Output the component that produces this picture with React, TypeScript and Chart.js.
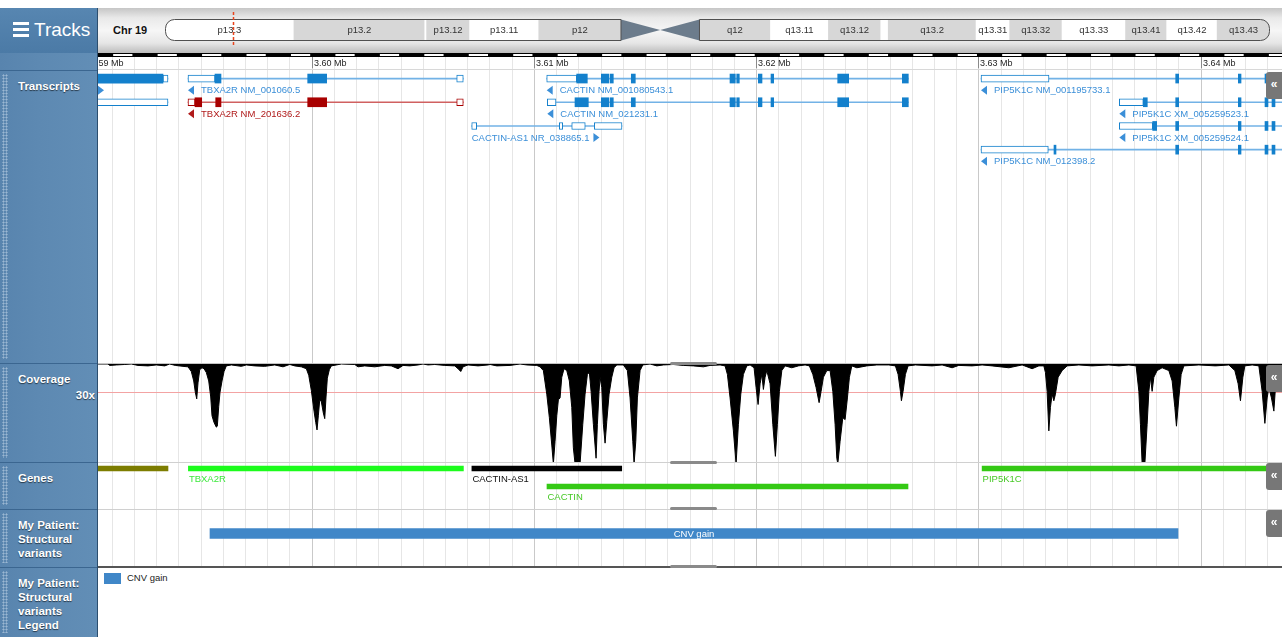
import React, { useEffect, useRef } from 'react';
import { Chart, registerables } from 'chart.js';

Chart.register(...registerables);

const SANS = '"Liberation Sans", Arial, Helvetica, sans-serif';

// ---------------- view (kb on chr19) ----------------
const VIEW_START_KB = 3590.385;
const VIEW_END_KB = 3643.658;
const CHR_NAME = 'Chr 19';
const CHR_LENGTH_MB = 59.128983;
const TICK_STEP_KB = 10;

// ---------------- cytobands (Mb) ----------------
const BAND_NAMES = ['p13.3', 'p13.2', 'p13.13', 'p13.12', 'p13.11', 'p12', 'p11', 'q11', 'q12', 'q13.11', 'q13.12', 'q13.13', 'q13.2', 'q13.31', 'q13.32', 'q13.33', 'q13.41', 'q13.42', 'q13.43'];
const BAND_START = [0, 6.9, 13.9, 14.0, 16.3, 20.0, 24.4, 26.5, 28.6, 32.4, 35.5, 38.3, 38.7, 43.4, 45.2, 48.0, 51.4, 53.6, 56.3];
const BAND_END = [6.9, 13.9, 14.0, 16.3, 20.0, 24.4, 26.5, 28.6, 32.4, 35.5, 38.3, 38.7, 43.4, 45.2, 48.0, 51.4, 53.6, 56.3, 59.128983];
const BAND_STAIN = ['gneg', 'gpos25', 'gneg', 'gpos25', 'gneg', 'gvar', 'acen', 'acen', 'gvar', 'gneg', 'gpos25', 'gneg', 'gpos25', 'gneg', 'gpos25', 'gneg', 'gpos25', 'gneg', 'gpos25'];

// ---------------- transcripts (kb) ----------------
type Seg = [number, number];
const GIPC3_A_CDS: Seg[] = [[3589.8, 3593.309]];
const GIPC3_A_UTR: Seg[] = [[3593.309, 3593.534]];
const GIPC3_B_UTR: Seg[] = [[3585.561, 3593.534]];
const TBXA2R_001060_UTR: Seg[] = [[3594.434, 3595.649], [3606.524, 3606.821]];
const TBXA2R_001060_CDS: Seg[] = [[3595.649, 3595.919], [3599.82, 3600.675]];
const TBXA2R_201636_UTR: Seg[] = [[3594.434, 3594.749], [3606.524, 3606.821]];
const TBXA2R_201636_CDS: Seg[] = [[3594.749, 3595.051], [3595.681, 3595.919], [3599.82, 3600.675]];
const CACTIN_AS1_EXONS: Seg[] = [[3607.199, 3607.424], [3611.141, 3611.294], [3611.699, 3612.31], [3612.715, 3613.962]];
const CACTIN_SHARED_CDS: Seg[] = [[3613.031, 3613.363], [3613.422, 3613.57], [3614.38, 3614.56], [3618.821, 3619.06], [3619.123, 3619.24], [3620.095, 3620.261], [3620.666, 3620.787], [3623.667, 3624.162], [3626.574, 3626.844]];
const CACTIN_080543_UTR: Seg[] = [[3610.574, 3611.924]];
const CACTIN_080543_CDS: Seg[] = [[3611.924, 3612.401], ...CACTIN_SHARED_CDS];
const CACTIN_021231_UTR: Seg[] = [[3610.601, 3610.992]];
const CACTIN_021231_CDS: Seg[] = [[3611.847, 3612.446], ...CACTIN_SHARED_CDS];
const PIP5K1C_SHARED_CDS: Seg[] = [[3638.875, 3639.01], [3641.692, 3641.814], [3642.893, 3643.028], [3643.208, 3643.343]];
const PIP5K1C_195733_UTR: Seg[] = [[3630.115, 3633.175]];
const PIP5K1C_523_UTR: Seg[] = [[3636.338, 3637.418]];
const PIP5K1C_523_CDS: Seg[] = [[3637.418, 3637.597], ...PIP5K1C_SHARED_CDS];
const PIP5K1C_524_UTR: Seg[] = [[3636.338, 3637.84]];
const PIP5K1C_524_CDS: Seg[] = [[3637.84, 3638.02], ...PIP5K1C_SHARED_CDS];
const PIP5K1C_012398_UTR: Seg[] = [[3630.115, 3633.144]];
const PIP5K1C_012398_CDS: Seg[] = [[3633.399, 3633.489], ...PIP5K1C_SHARED_CDS];

type Tx = { label: string | null; strand: '+' | '-'; row: number; red: boolean; start: number; end: number; utr: Seg[]; cds: Seg[] };
const TRANSCRIPTS: Tx[] = [
  { label: '', strand: '+', row: 0, red: false, start: 3585.561, end: 3593.534, utr: GIPC3_A_UTR, cds: GIPC3_A_CDS },
  { label: null, strand: '+', row: 1, red: false, start: 3585.561, end: 3593.534, utr: GIPC3_B_UTR, cds: [] },
  { label: 'TBXA2R NM_001060.5', strand: '-', row: 0, red: false, start: 3594.434, end: 3606.821, utr: TBXA2R_001060_UTR, cds: TBXA2R_001060_CDS },
  { label: 'TBXA2R NM_201636.2', strand: '-', row: 1, red: true, start: 3594.434, end: 3606.821, utr: TBXA2R_201636_UTR, cds: TBXA2R_201636_CDS },
  { label: 'CACTIN-AS1 NR_038865.1', strand: '+', row: 2, red: false, start: 3607.199, end: 3613.962, utr: CACTIN_AS1_EXONS, cds: [] },
  { label: 'CACTIN NM_001080543.1', strand: '-', row: 0, red: false, start: 3610.574, end: 3626.844, utr: CACTIN_080543_UTR, cds: CACTIN_080543_CDS },
  { label: 'CACTIN NM_021231.1', strand: '-', row: 1, red: false, start: 3610.601, end: 3626.844, utr: CACTIN_021231_UTR, cds: CACTIN_021231_CDS },
  { label: 'PIP5K1C NM_001195733.1', strand: '-', row: 0, red: false, start: 3630.115, end: 3666.0, utr: PIP5K1C_195733_UTR, cds: PIP5K1C_SHARED_CDS },
  { label: 'PIP5K1C XM_005259523.1', strand: '-', row: 1, red: false, start: 3636.338, end: 3666.0, utr: PIP5K1C_523_UTR, cds: PIP5K1C_523_CDS },
  { label: 'PIP5K1C XM_005259524.1', strand: '-', row: 2, red: false, start: 3636.338, end: 3666.0, utr: PIP5K1C_524_UTR, cds: PIP5K1C_524_CDS },
  { label: 'PIP5K1C NM_012398.2', strand: '-', row: 3, red: false, start: 3630.115, end: 3666.0, utr: PIP5K1C_012398_UTR, cds: PIP5K1C_012398_CDS },
];

// ---------------- coverage [kb, depth] ----------------
const COVERAGE: [number, number][] = [
  [3590.385, 0], [3590.835, 0], [3590.912, 1.5], [3591.209, 1], [3591.587, 0.5], [3591.884, 0], [3592.185, 1.5], [3592.635, 2], [3593.009, 1], [3593.387, 2], [3593.612, 0], [3593.864, 1.5], [3594.21, 2.5], [3594.435, 3],
  [3594.584, 8], [3594.692, 18], [3594.764, 30], [3594.827, 37], [3594.885, 20], [3594.962, 6], [3595.065, 4], [3595.155, 5], [3595.259, 9], [3595.367, 18], [3595.457, 35], [3595.515, 55], [3595.605, 62], [3595.709, 67], [3595.754, 66], [3595.817, 45], [3595.875, 30], [3595.965, 18], [3596.055, 8], [3596.159, 2],
  [3596.384, 1], [3596.834, 2.5], [3597.059, 1], [3597.437, 2], [3597.887, 2.5], [3598.337, 1], [3598.71, 3], [3599.012, 0.5], [3599.237, 2], [3599.534, 3], [3599.759, 5], [3599.867, 12], [3599.984, 28], [3600.105, 50], [3600.182, 62], [3600.24, 70], [3600.299, 55], [3600.362, 38], [3600.434, 40], [3600.524, 52], [3600.587, 58], [3600.645, 35], [3600.704, 15], [3600.794, 6], [3600.884, 2],
  [3601.334, 0], [3601.937, 0.5], [3602.085, 3], [3602.387, 2], [3602.837, 3], [3603.287, 1.5], [3603.584, 2], [3603.885, 5], [3604.11, 1.5], [3604.412, 2], [3604.785, 1], [3605.01, 0], [3605.235, 1], [3605.537, 0.5], [3605.987, 1.5], [3606.437, 2], [3606.585, 5], [3606.707, 8], [3606.81, 3], [3607.035, 1], [3607.485, 2], [3607.935, 1],
  [3608.025, 0.5], [3608.327, 2], [3608.925, 1.5], [3609.375, 0], [3609.677, 1], [3610.127, 1.5], [3610.275, 3], [3610.424, 7], [3610.577, 32], [3610.694, 57], [3610.802, 86], [3610.874, 106], [3610.95, 82], [3611.027, 55], [3611.099, 38], [3611.175, 36], [3611.252, 14], [3611.355, 5], [3611.477, 7], [3611.594, 18], [3611.702, 46], [3611.774, 89], [3611.85, 106], [3612.075, 106], [3612.197, 64], [3612.3, 32], [3612.404, 11], [3612.494, 9], [3612.57, 29], [3612.674, 64], [3612.795, 100], [3612.854, 64], [3612.93, 29], [3612.975, 14], [3613.052, 25], [3613.124, 64], [3613.2, 84], [3613.277, 61], [3613.38, 32], [3613.502, 14], [3613.605, 4], [3613.727, 1],
  [3614.024, 1], [3614.204, 7], [3614.325, 36], [3614.447, 82], [3614.505, 106], [3614.582, 82], [3614.654, 36], [3614.775, 7], [3614.897, 1], [3615.225, 0], [3615.527, 2], [3615.824, 1], [3616.274, 0.5], [3616.724, 1.5], [3617.174, 2], [3617.624, 3], [3617.925, 1.5], [3618.375, 1],
  [3618.6, 2], [3618.704, 11], [3618.825, 36], [3618.974, 71], [3619.095, 106], [3619.199, 64], [3619.307, 32], [3619.424, 11], [3619.577, 2], [3619.725, 1], [3619.905, 4], [3619.995, 25], [3620.085, 43], [3620.175, 21], [3620.252, 11], [3620.324, 27], [3620.4, 14], [3620.477, 7], [3620.625, 21], [3620.747, 64], [3620.864, 98], [3620.954, 64], [3621.044, 29], [3621.152, 7], [3621.3, 2],
  [3621.602, 4], [3621.899, 2], [3622.2, 1], [3622.394, 2], [3622.547, 11], [3622.695, 25], [3622.83, 41], [3622.92, 29], [3623.024, 14], [3623.177, 7], [3623.325, 7], [3623.447, 29], [3623.55, 64], [3623.627, 100], [3623.672, 106], [3623.775, 82], [3623.897, 57], [3624.0, 59], [3624.104, 36], [3624.194, 14], [3624.302, 2], [3624.527, 4], [3624.977, 2], [3625.427, 1],
  [3625.967, 1], [3626.264, 2], [3626.385, 11], [3626.489, 29], [3626.534, 39], [3626.61, 29], [3626.714, 11], [3626.835, 2], [3627.164, 1], [3627.915, 2], [3628.365, 1], [3628.815, 4], [3629.117, 1.5], [3629.715, 2], [3630.165, 1], [3630.615, 2], [3631.367, 4], [3631.965, 1], [3632.415, 5], [3632.717, 2],
  [3632.942, 2], [3633.014, 9], [3633.09, 29], [3633.167, 71], [3633.239, 46], [3633.315, 32], [3633.392, 39], [3633.464, 32], [3633.585, 14], [3633.765, 7], [3633.99, 2], [3634.517, 1], [3635.115, 2], [3635.867, 1], [3636.317, 2], [3636.767, 1],
  [3637.095, 2], [3637.217, 29], [3637.289, 64], [3637.365, 106], [3637.487, 106], [3637.59, 64], [3637.667, 29], [3637.739, 14], [3637.815, 29], [3637.892, 14], [3638.04, 7], [3638.265, 4], [3638.567, 7], [3638.715, 18], [3638.837, 46], [3638.909, 66], [3639.017, 36], [3639.12, 11], [3639.242, 2],
  [3639.917, 1], [3640.664, 2], [3641.267, 1], [3641.537, 7], [3641.685, 21], [3641.789, 39], [3641.897, 14], [3641.987, 2], [3642.315, 1], [3642.617, 2], [3642.765, 29], [3642.887, 63], [3642.99, 36], [3643.067, 25], [3643.184, 36], [3643.292, 50], [3643.364, 25], [3643.517, 7], [3643.665, 7], [3644.0, 5],
];
const COVERAGE_REF = 30;
const COVERAGE_AXIS_MAX = 104;

// ---------------- genes (kb) ----------------
const GENE_NAMES = ['GIPC3', 'TBXA2R', 'CACTIN-AS1', 'CACTIN', 'PIP5K1C'];
const GENE_START = [3585.561, 3594.452, 3607.208, 3610.587, 3630.165];
const GENE_END = [3593.534, 3606.826, 3613.95, 3626.83, 3666.0];
const GENE_ROW = [0, 0, 0, 1, 0];

// ---------------- structural variants (kb) ----------------
const SV_LABELS = ['CNV gain'];
const SV_START = [3595.424];
const SV_END = [3638.979];

// ---------------- styles ----------------
const STAIN_COLORS: Record<string, string> = { gneg: '#ffffff', gpos25: '#d7d7d7', gvar: '#d7d7d7', acen: 'rgba(0,0,0,0)' };
const GENE_BAR_COLORS: Record<string, string> = { GIPC3: '#7d7d00', TBXA2R: '#1cfc1c', 'CACTIN-AS1': '#000000', CACTIN: '#34c914', PIP5K1C: '#34c914' };
const GENE_LABEL_COLORS: Record<string, string> = { GIPC3: '#7d7d00', TBXA2R: '#3ce83c', 'CACTIN-AS1': '#111111', CACTIN: '#47c926', PIP5K1C: '#47c926' };
const BLUE_EXON = '#1380cc';
const BLUE_INTRON = '#72b2e6';
const BLUE_LABEL = '#3b8fd8';
const RED_EXON = '#a80000';
const RED_INTRON = '#d06060';
const RED_LABEL = '#b01a1a';
const CNV_COLOR = '#4087c8';
const GRID_MINOR = '#e6e6e6';
const GRID_MAJOR = '#c9c9c9';
const PANEL_BLUE = '#5d89b2';

const baseOptions = {
  animation: false,
  responsive: false,
  maintainAspectRatio: false,
  events: [],
  layout: { padding: 0 },
  plugins: { legend: { display: false }, tooltip: { enabled: false } },
};

const xTrackScale = { type: 'linear', min: VIEW_START_KB, max: VIEW_END_KB, display: false };

function gridPlugin(topOffset: number) {
  return {
    id: 'kbGrid',
    beforeDatasetsDraw(chart: any) {
      const { ctx, chartArea: a, scales } = chart;
      const x = scales.x;
      ctx.save();
      ctx.lineWidth = 1;
      for (let k = Math.ceil(x.min); k <= x.max; k++) {
        const px = Math.round(x.getPixelForValue(k)) + 0.5;
        ctx.strokeStyle = k % TICK_STEP_KB === 0 ? GRID_MAJOR : GRID_MINOR;
        ctx.beginPath();
        ctx.moveTo(px, a.top + topOffset);
        ctx.lineTo(px, a.bottom);
        ctx.stroke();
      }
      ctx.restore();
    },
  };
}

const rulerPlugin = {
  id: 'ruler',
  afterDatasetsDraw(chart: any) {
    const { ctx, chartArea: a, scales } = chart;
    const x = scales.x;
    ctx.save();
    ctx.beginPath();
    ctx.rect(a.left, 0, a.right - a.left, 20);
    ctx.clip();
    ctx.fillStyle = '#000';
    ctx.fillRect(a.left, 1, a.right - a.left, 4);
    ctx.fillStyle = '#fff';
    for (let k = Math.floor(x.min); k <= x.max; k++) {
      if (Math.abs(k % 2) === 1) {
        const x1 = x.getPixelForValue(k) + 1.5;
        const x2 = x.getPixelForValue(k + 1) - 1.5;
        ctx.fillRect(x1, 2, x2 - x1, 2);
      }
    }
    ctx.font = `9px ${SANS}`;
    ctx.textBaseline = 'middle';
    ctx.textAlign = 'left';
    for (let k = Math.floor(x.min / TICK_STEP_KB) * TICK_STEP_KB; k <= x.max; k += TICK_STEP_KB) {
      const px = Math.round(x.getPixelForValue(k)) + 0.5;
      ctx.strokeStyle = '#8a8a8a';
      ctx.beginPath();
      ctx.moveTo(px, 5);
      ctx.lineTo(px, 16);
      ctx.stroke();
      ctx.fillStyle = '#1e1e1e';
      ctx.fillText(`${(k / 1000).toFixed(2)} Mb`, px + 1.5, 11.5);
    }
    ctx.restore();
  },
};

const TX_LABEL_OFFSET = 0.49;
const txLabelPlugin = {
  id: 'txLabels',
  afterDatasetsDraw(chart: any) {
    const { ctx, chartArea: a, scales } = chart;
    const { x, y } = scales;
    ctx.save();
    ctx.beginPath();
    ctx.rect(a.left, a.top, a.right - a.left, a.bottom - a.top);
    ctx.clip();
    ctx.font = `9.5px ${SANS}`;
    ctx.textBaseline = 'middle';
    ctx.textAlign = 'left';
    for (const t of TRANSCRIPTS) {
      if (t.label === null) continue;
      const py = y.getPixelForValue(t.row + TX_LABEL_OFFSET);
      const lx = Math.max(x.getPixelForValue(t.start), a.left);
      ctx.fillStyle = t.red ? RED_LABEL : BLUE_LABEL;
      if (t.strand === '-') {
        ctx.beginPath();
        ctx.moveTo(lx, py);
        ctx.lineTo(lx + 6, py - 4.5);
        ctx.lineTo(lx + 6, py + 4.5);
        ctx.closePath();
        ctx.fill();
        ctx.fillText(t.label, lx + 13, py + 0.5);
      } else {
        ctx.fillText(t.label, lx, py + 0.5);
        const w = t.label ? ctx.measureText(t.label).width + 4 : 0;
        ctx.beginPath();
        ctx.moveTo(lx + w, py - 4.5);
        ctx.lineTo(lx + w + 6, py);
        ctx.lineTo(lx + w, py + 4.5);
        ctx.closePath();
        ctx.fill();
      }
    }
    ctx.restore();
  },
};

function makeTranscripts() {
  const intronData = TRANSCRIPTS.map((t) => ({ x: [t.start, t.end], y: t.row, c: t.red ? RED_INTRON : BLUE_INTRON }));
  const utrData = TRANSCRIPTS.flatMap((t) => t.utr.map((s) => ({ x: [s[0], s[1]], y: t.row, c: t.red ? RED_EXON : BLUE_EXON })));
  const cdsData = TRANSCRIPTS.flatMap((t) => t.cds.map((s) => ({ x: [s[0], s[1]], y: t.row, c: t.red ? RED_EXON : BLUE_EXON })));
  const col = (c: any) => (c.raw ? c.raw.c : BLUE_EXON);
  return {
    type: 'bar',
    data: {
      datasets: [
        { label: 'CDS', data: cdsData, backgroundColor: col, borderWidth: 0, barThickness: 9, grouped: false, order: 0 },
        { label: 'UTR', data: utrData, backgroundColor: '#ffffff', borderColor: col, borderWidth: 1, borderSkipped: false, barThickness: 7, grouped: false, order: 1 },
        { label: 'Intron', data: intronData, backgroundColor: col, borderWidth: 0, barThickness: 1, grouped: false, order: 2 },
      ],
    },
    options: {
      ...baseOptions,
      indexAxis: 'y',
      scales: {
        x: xTrackScale,
        y: { type: 'linear', min: -1.12, max: 12.0, reverse: true, offset: false, display: false },
      },
    },
    plugins: [gridPlugin(5), rulerPlugin, txLabelPlugin],
  };
}

const refLinePlugin = {
  id: 'refLine',
  beforeDatasetsDraw(chart: any) {
    const { ctx, chartArea: a, scales } = chart;
    const py = Math.round(scales.y.getPixelForValue(COVERAGE_REF)) + 0.5;
    ctx.save();
    ctx.strokeStyle = '#f3a3a3';
    ctx.lineWidth = 1;
    ctx.beginPath();
    ctx.moveTo(a.left, py);
    ctx.lineTo(a.right, py);
    ctx.stroke();
    ctx.restore();
  },
};

function makeCoverage() {
  return {
    type: 'line',
    data: {
      datasets: [
        {
          label: 'Coverage',
          data: COVERAGE.map((p) => ({ x: p[0], y: p[1] })),
          borderColor: '#000',
          backgroundColor: '#000',
          borderWidth: 1,
          pointRadius: 0,
          fill: 'origin',
          tension: 0,
        },
      ],
    },
    options: {
      ...baseOptions,
      scales: {
        x: xTrackScale,
        y: { type: 'linear', min: 0, max: COVERAGE_AXIS_MAX, reverse: true, display: false },
      },
    },
    plugins: [gridPlugin(0), refLinePlugin],
  };
}

const GENE_LABEL_OFFSET = 0.61;
const geneLabelPlugin = {
  id: 'geneLabels',
  afterDatasetsDraw(chart: any) {
    const { ctx, scales } = chart;
    const { x, y } = scales;
    ctx.save();
    ctx.font = `9.5px ${SANS}`;
    ctx.textBaseline = 'middle';
    ctx.textAlign = 'left';
    GENE_NAMES.forEach((g, i) => {
      ctx.fillStyle = GENE_LABEL_COLORS[g];
      ctx.fillText(g, x.getPixelForValue(GENE_START[i]) + 0.5, y.getPixelForValue(GENE_ROW[i] + GENE_LABEL_OFFSET));
    });
    ctx.restore();
  },
};

function makeGenes() {
  return {
    type: 'bar',
    data: {
      datasets: [
        {
          label: 'Genes',
          data: GENE_NAMES.map((g, i) => ({ x: [GENE_START[i], GENE_END[i]], y: GENE_ROW[i], g })),
          backgroundColor: (c: any) => (c.raw ? GENE_BAR_COLORS[c.raw.g] : '#000'),
          borderWidth: 0,
          barThickness: 5,
          grouped: false,
        },
      ],
    },
    options: {
      ...baseOptions,
      indexAxis: 'y',
      scales: {
        x: xTrackScale,
        y: { type: 'linear', min: -0.306, max: 2.25, reverse: true, offset: false, display: false },
      },
    },
    plugins: [gridPlugin(0), geneLabelPlugin],
  };
}

const svLabelPlugin = {
  id: 'svLabels',
  afterDatasetsDraw(chart: any) {
    const { ctx, scales } = chart;
    const { x, y } = scales;
    ctx.save();
    ctx.font = `9.5px ${SANS}`;
    ctx.textBaseline = 'middle';
    ctx.textAlign = 'center';
    ctx.fillStyle = '#ffffff';
    SV_LABELS.forEach((l, i) => {
      ctx.fillText(l, x.getPixelForValue((SV_START[i] + SV_END[i]) / 2), y.getPixelForValue(0) + 0.5);
    });
    ctx.restore();
  },
};

function makeSV() {
  return {
    type: 'bar',
    data: {
      datasets: [
        {
          label: SV_LABELS[0],
          data: SV_LABELS.map((_, i) => ({ x: [SV_START[i], SV_END[i]], y: 0 })),
          backgroundColor: CNV_COLOR,
          borderWidth: 0,
          barThickness: 10,
          grouped: false,
        },
      ],
    },
    options: {
      ...baseOptions,
      indexAxis: 'y',
      scales: {
        x: xTrackScale,
        y: { type: 'linear', min: -1, max: 1.383, reverse: true, offset: false, display: false },
      },
    },
    plugins: [gridPlugin(0), svLabelPlugin],
  };
}

function ideoGeom(chart: any) {
  const { x, y } = chart.scales;
  const mid = Math.round(y.getPixelForValue(0));
  const acen = BAND_STAIN.map((s, i) => (s === 'acen' ? i : -1)).filter((i) => i >= 0);
  const first = acen[0];
  const last = acen[acen.length - 1];
  return {
    mid,
    top: mid - 10.5,
    bot: mid + 10.5,
    pStart: x.getPixelForValue(BAND_START[0]) + 0.5,
    pEnd: x.getPixelForValue(BAND_START[first]),
    cen: x.getPixelForValue(BAND_END[first]),
    qStart: x.getPixelForValue(BAND_END[last]),
    qEnd: x.getPixelForValue(BAND_END[BAND_END.length - 1]) - 0.5,
  };
}

function armPath(ctx: any, x0: number, x1: number, top: number, bot: number, radii: number[]) {
  if (ctx.roundRect) ctx.roundRect(x0, top, x1 - x0, bot - top, radii);
  else ctx.rect(x0, top, x1 - x0, bot - top);
}

const ideogramPlugin = {
  id: 'ideogram',
  beforeDatasetsDraw(chart: any) {
    const { ctx } = chart;
    const g = ideoGeom(chart);
    ctx.save();
    ctx.beginPath();
    armPath(ctx, g.pStart, g.pEnd, g.top, g.bot, [9, 0, 0, 9]);
    armPath(ctx, g.qStart, g.qEnd, g.top, g.bot, [0, 9, 9, 0]);
    ctx.clip();
  },
  afterDatasetsDraw(chart: any) {
    const { ctx, scales } = chart;
    const x = scales.x;
    ctx.restore();
    const g = ideoGeom(chart);
    ctx.save();
    ctx.fillStyle = '#6c7c8c';
    ctx.beginPath();
    ctx.moveTo(g.pEnd, g.top);
    ctx.lineTo(g.cen, g.mid);
    ctx.lineTo(g.pEnd, g.bot);
    ctx.closePath();
    ctx.moveTo(g.qStart, g.top);
    ctx.lineTo(g.cen, g.mid);
    ctx.lineTo(g.qStart, g.bot);
    ctx.closePath();
    ctx.fill();
    ctx.strokeStyle = '#505050';
    ctx.lineWidth = 1;
    ctx.beginPath();
    armPath(ctx, g.pStart, g.pEnd, g.top, g.bot, [9, 0, 0, 9]);
    ctx.stroke();
    ctx.beginPath();
    armPath(ctx, g.qStart, g.qEnd, g.top, g.bot, [0, 9, 9, 0]);
    ctx.stroke();
    ctx.font = `9.5px ${SANS}`;
    ctx.textAlign = 'center';
    ctx.textBaseline = 'middle';
    ctx.fillStyle = '#333';
    BAND_NAMES.forEach((name, i) => {
      if (BAND_STAIN[i] === 'acen') return;
      const x0 = x.getPixelForValue(BAND_START[i]);
      const x1 = x.getPixelForValue(BAND_END[i]);
      if (ctx.measureText(name).width + 4 < x1 - x0) ctx.fillText(name, (x0 + x1) / 2, g.mid + 0.5);
    });
    const viewCenterMb = (VIEW_START_KB + VIEW_END_KB) / 2 / 1000;
    const mx = Math.round(x.getPixelForValue(viewCenterMb)) + 0.5;
    ctx.strokeStyle = '#e8431c';
    ctx.lineWidth = 1.5;
    ctx.setLineDash([3, 2]);
    ctx.beginPath();
    ctx.moveTo(mx, g.mid - 18);
    ctx.lineTo(mx, g.mid + 17);
    ctx.stroke();
    ctx.restore();
  },
};

function makeIdeogram() {
  return {
    type: 'bar',
    data: {
      labels: ['chr19'],
      datasets: [
        {
          label: 'bands',
          data: BAND_NAMES.map((_, i) => ({ x: [BAND_START[i], BAND_END[i]], y: 'chr19', s: BAND_STAIN[i] })),
          backgroundColor: (c: any) => (c.raw ? STAIN_COLORS[c.raw.s] : '#fff'),
          borderWidth: 0,
          barThickness: 22,
          grouped: false,
        },
      ],
    },
    options: {
      ...baseOptions,
      indexAxis: 'y',
      layout: { padding: { left: 1, right: 1, top: 0, bottom: 0 } },
      scales: {
        x: { type: 'linear', min: 0, max: CHR_LENGTH_MB, display: false },
        y: { type: 'category', offset: true, display: false },
      },
    },
    plugins: [ideogramPlugin],
  };
}

function ChartCanvas({ left, top, width, height, make }: { left: number; top: number; width: number; height: number; make: () => any }) {
  const ref = useRef<HTMLCanvasElement>(null);
  useEffect(() => {
    const chart = new Chart(ref.current as HTMLCanvasElement, make());
    return () => chart.destroy();
  }, []);
  return <canvas ref={ref} width={width} height={height} style={{ position: 'absolute', left, top, width, height, display: 'block' }} />;
}

const TRACK_LABELS = [
  { top: 70, lines: ['Transcripts'] },
  { top: 363, lines: ['Coverage'] },
  { top: 462, lines: ['Genes'] },
  { top: 509, lines: ['My Patient:', 'Structural', 'variants'] },
  { top: 567, lines: ['My Patient:', 'Structural', 'variants', 'Legend'] },
];
const TRACK_BOUNDS = [70, 363, 462, 509, 567, 637];
const BUTTON_TOPS = [72, 365, 463, 510];
const HANDLE_TOPS = [361.5, 460.5, 507, 565];

export default function App() {
  useEffect(() => {
    document.body.style.margin = '0';
  }, []);
  const abs = (s: any) => ({ position: 'absolute' as const, ...s });
  return (
    <div style={{ position: 'fixed', left: 0, top: 0, width: 1282, height: 637, overflow: 'hidden', background: '#fff', fontFamily: SANS }}>
      {/* header */}
      <div style={abs({ left: 0, top: 8, width: 97, height: 45, background: 'linear-gradient(#5786b1, #4b7aa6)' })} />
      {[23, 29, 35].map((t) => (
        <div key={t} style={abs({ left: 13, top: t - 1, width: 16, height: 2.5, background: '#fff' })} />
      ))}
      <div style={abs({ left: 34, top: 18, fontSize: 19, lineHeight: '24px', color: '#fff', whiteSpace: 'nowrap' })}>Tracks</div>
      <div style={abs({ left: 98, top: 8, width: 1184, height: 45, background: 'linear-gradient(#c6c6c6 0%, #e9e9e9 22%, #f6f6f6 50%, #e6e6e6 78%, #bcbcbc 100%)' })} />
      <div style={abs({ left: 113, top: 23, fontSize: 11, fontWeight: 'bold', lineHeight: '14px', color: '#111', whiteSpace: 'nowrap' })}>{CHR_NAME}</div>
      <ChartCanvas left={164} top={10} width={1107} height={40} make={makeIdeogram} />

      {/* left panel */}
      <div style={abs({ left: 0, top: 53, width: 97, height: 584, background: `linear-gradient(to right, #5884ae, ${PANEL_BLUE} 40%, #628eb6)` })} />
      <div style={abs({ left: 97, top: 8, width: 1, height: 629, background: '#2c4e6e' })} />
      {TRACK_BOUNDS.slice(0, 5).map((t) => (
        <div key={'ls' + t} style={abs({ left: 0, top: t, width: 97, height: 1, background: '#3b6690' })} />
      ))}
      {TRACK_BOUNDS.slice(0, 5).map((t, i) => (
        <div
          key={'dot' + t}
          style={abs({
            left: 2,
            top: t + 4,
            width: 6,
            height: TRACK_BOUNDS[i + 1] - t - 8,
            backgroundImage: 'radial-gradient(circle, rgba(210,225,240,0.55) 0.8px, rgba(0,0,0,0) 1.3px)',
            backgroundSize: '3px 3px',
          })}
        />
      ))}
      {TRACK_LABELS.map((tr) => (
        <div key={'lb' + tr.top} style={abs({ left: 18, top: tr.top + 9, fontSize: 11.5, fontWeight: 'bold', lineHeight: '14px', color: '#fff', textShadow: '0 1px 1px rgba(0,0,0,0.6)', whiteSpace: 'nowrap' })}>
          {tr.lines.map((l) => (
            <div key={l}>{l}</div>
          ))}
        </div>
      ))}
      <div style={abs({ left: 0, top: 388, width: 95, textAlign: 'right', fontSize: 11.5, fontWeight: 'bold', lineHeight: '14px', color: '#fff', textShadow: '0 1px 1px rgba(0,0,0,0.6)' })}>{COVERAGE_REF}x</div>

      {/* tracks */}
      <ChartCanvas left={98} top={52} width={1184} height={311} make={makeTranscripts} />
      <ChartCanvas left={98} top={364} width={1184} height={98} make={makeCoverage} />
      <ChartCanvas left={98} top={463} width={1184} height={46} make={makeGenes} />
      <ChartCanvas left={98} top={510} width={1184} height={56} make={makeSV} />

      {/* separators */}
      <div style={abs({ left: 98, top: 69, width: 1184, height: 1, background: '#d8d8d8' })} />
      <div style={abs({ left: 98, top: 363, width: 1184, height: 1, background: '#c4c4c4' })} />
      <div style={abs({ left: 98, top: 462, width: 1184, height: 1, background: '#d0d0d0' })} />
      <div style={abs({ left: 98, top: 509, width: 1184, height: 1, background: '#d0d0d0' })} />
      <div style={abs({ left: 98, top: 566, width: 1184, height: 1.5, background: '#555' })} />

      {HANDLE_TOPS.map((t) => (
        <div key={'h' + t} style={abs({ left: 670, top: t, width: 47, height: 3, background: '#8a8a8a', borderRadius: 2 })} />
      ))}
      {BUTTON_TOPS.map((t) => (
        <div key={'b' + t} style={abs({ left: 1266, top: t, width: 16, height: 27, background: '#777', borderRadius: '3px 0 0 3px', color: '#fff', fontSize: 12, fontWeight: 'bold', lineHeight: '24px', textAlign: 'center' })}>«</div>
      ))}

      {/* legend track */}
      <div style={abs({ left: 104, top: 573, width: 17, height: 11, background: CNV_COLOR })} />
      <div style={abs({ left: 127, top: 572, fontSize: 9.5, lineHeight: '12px', color: '#222', whiteSpace: 'nowrap' })}>{SV_LABELS[0]}</div>
    </div>
  );
}
